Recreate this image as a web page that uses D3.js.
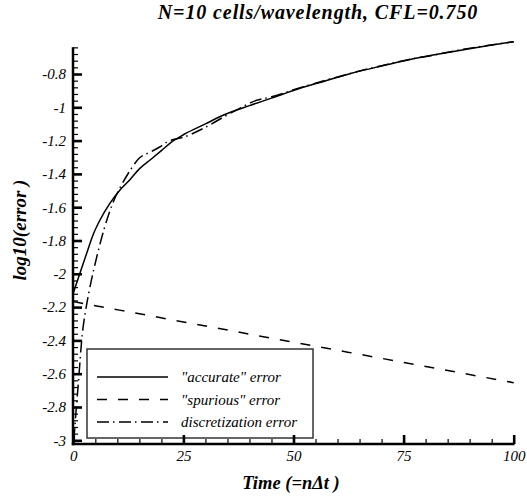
<!DOCTYPE html>
<html>
<head>
<meta charset="utf-8">
<script src="https://cdn.jsdelivr.net/npm/d3@7"></script>
<style>
  html, body { margin: 0; padding: 0; background: #fff; }
  svg { display: block; }
  svg text { font-family: "Liberation Serif", "Times New Roman", Times, serif !important; fill: #000; }
</style>
</head>
<body>
<svg id="chart" width="527" height="497"></svg>
<script>
// ---- data ----
const titleText = "N=10 cells/wavelength, CFL=0.750";
const xTitle = "Time (=n\u0394t )";
const yTitle = "log10(error )";

// "accurate" error
const accurateT = [0, 1.5, 3, 4.5, 6, 8.3, 10.6, 13, 15, 17.5, 20, 22.5, 25, 30, 34, 40, 45, 51, 57, 63, 70, 76, 82, 88, 94, 100];
const accurateV = [-2.115, -1.997, -1.88, -1.765, -1.68, -1.577, -1.497, -1.43, -1.37, -1.315, -1.26, -1.205, -1.165, -1.1, -1.048, -0.99, -0.945, -0.89, -0.843, -0.797, -0.752, -0.716, -0.685, -0.657, -0.63, -0.606];

// "spurious" error
const spuriousT = [0, 25, 50, 75, 100];
const spuriousV = [-2.167, -2.289, -2.411, -2.532, -2.654];

// discretization error
const discretT = [0.15, 0.3, 1.2, 1.9, 3, 4.1, 5.5, 7, 9.1, 11.3, 13, 15, 17.4, 19.5, 21.5, 25, 30, 35, 38, 41.6, 45, 50, 55, 60, 65, 70, 76, 82, 88, 94, 100];
const discretV = [-3.0, -2.94, -2.64, -2.4, -2.19, -2.04, -1.88, -1.73, -1.567, -1.45, -1.375, -1.305, -1.27, -1.24, -1.205, -1.18, -1.12, -1.045, -1.003, -0.958, -0.937, -0.895, -0.855, -0.818, -0.782, -0.75, -0.714, -0.686, -0.654, -0.629, -0.606];

const legendLabels = ["\"accurate\" error", "\"spurious\" error", "discretization error"];

const xMajorTicks = [0, 25, 50, 75, 100];
const xTickLabels = ["0", "25", "50", "75", "100"];
const yMajorTicks = [-3, -2.8, -2.6, -2.4, -2.2, -2, -1.8, -1.6, -1.4, -1.2, -1, -0.8];
const yTickLabels = ["-3", "-2.8", "-2.6", "-2.4", "-2.2", "-2", "-1.8", "-1.6", "-1.4", "-1.2", "-1", "-0.8"];

// ---- layout ----
const svg = d3.select("#chart");
const x = d3.scaleLinear().domain([0, 100]).range([73.3, 513.7]);
const y = d3.scaleLinear().domain([-3, -0.8]).range([440.3, 74]);
const yTop = -0.64;
const xAxisY = 444;

const xMinor = d3.range(0, 100.001, 5).filter(v => !xMajorTicks.includes(v));
const yMinor = d3.range(-3, yTop + 0.0001, 0.04).map(v => +v.toFixed(2))
  .filter(v => !yMajorTicks.some(m => Math.abs(m - v) < 1e-6));

// curves
const lineGen = d3.line().x(d => x(d[0])).y(d => y(d[1])).curve(d3.curveMonotoneX);
const zip = (a, b) => a.map((v, i) => [v, b[i]]);

const series = [
  { pts: zip(accurateT, accurateV), dash: null },
  { pts: zip(spuriousT, spuriousV), dash: "10,11" },
  { pts: zip(discretT, discretV), dash: "12,4,1.5,4.5" }
];

svg.append("g").selectAll("path").data(series).join("path")
  .attr("d", d => lineGen(d.pts))
  .attr("fill", "none")
  .attr("stroke", "#000")
  .attr("stroke-width", 1.5)
  .attr("stroke-dasharray", d => d.dash);

// legend
const lg = svg.append("g");
lg.append("rect").attr("x", 87).attr("y", 349).attr("width", 226).attr("height", 89)
  .attr("fill", "#fff").attr("stroke", "#333").attr("stroke-width", 1.5);
const rowY = [377, 399.5, 422];
legendLabels.forEach((lab, i) => {
  lg.append("line").attr("x1", 97).attr("x2", 168).attr("y1", rowY[i]).attr("y2", rowY[i])
    .attr("stroke", "#000").attr("stroke-width", 1.5)
    .attr("stroke-dasharray", series[i].dash);
  lg.append("text").attr("x", 181).attr("y", rowY[i] + 5)
    .attr("font-size", 15).attr("font-style", "italic").text(lab);
});

// y axis
const yAxisG = svg.append("g").attr("transform", "translate(73,0)");
yAxisG.append("g")
  .call(d3.axisLeft(y).tickValues(yMinor).tickSize(-5).tickFormat(""))
  .call(g => g.selectAll(".tick line").attr("stroke-width", 1.2));
yAxisG.append("g")
  .call(d3.axisLeft(y).tickValues(yMajorTicks).tickSize(-9).tickPadding(7)
    .tickFormat((d, i) => yTickLabels[i]))
  .call(g => g.selectAll(".tick line").attr("stroke-width", 2.6))
  .call(g => g.selectAll(".tick text").attr("font-size", 15).attr("font-style", "italic"));
svg.selectAll(".domain").remove();
svg.append("line").attr("x1", 73).attr("x2", 73).attr("y1", y(yTop)).attr("y2", xAxisY + 1.3)
  .attr("stroke", "#000").attr("stroke-width", 2.5);

// x axis
const xAxisG = svg.append("g").attr("transform", `translate(0,${xAxisY})`);
xAxisG.append("g")
  .call(d3.axisBottom(x).tickValues(xMinor).tickSize(-5).tickFormat(""))
  .call(g => g.selectAll(".tick line").attr("stroke-width", 1.2));
xAxisG.append("g")
  .call(d3.axisBottom(x).tickValues(xMajorTicks).tickSize(-9).tickPadding(6)
    .tickFormat((d, i) => xTickLabels[i]))
  .call(g => g.selectAll(".tick line").attr("stroke-width", 2.6))
  .call(g => g.selectAll(".tick text").attr("font-size", 15).attr("font-style", "italic"));
xAxisG.selectAll(".domain").remove();
svg.append("line").attr("x1", 71.8).attr("x2", 514.5).attr("y1", xAxisY).attr("y2", xAxisY)
  .attr("stroke", "#000").attr("stroke-width", 2.6);

// titles
svg.append("text").attr("x", 318).attr("y", 19).attr("text-anchor", "middle")
  .attr("font-size", 20).attr("letter-spacing", 0.9)
  .attr("font-weight", "bold").attr("font-style", "italic").text(titleText);
svg.append("text").attr("x", 291).attr("y", 489).attr("text-anchor", "middle")
  .attr("font-size", 18.5).attr("font-weight", "bold").attr("font-style", "italic").text(xTitle);
svg.append("text").attr("transform", "translate(26,230) rotate(-90)").attr("text-anchor", "middle")
  .attr("font-size", 19).attr("font-weight", "bold").attr("font-style", "italic").text(yTitle);
</script>
</body>
</html>
